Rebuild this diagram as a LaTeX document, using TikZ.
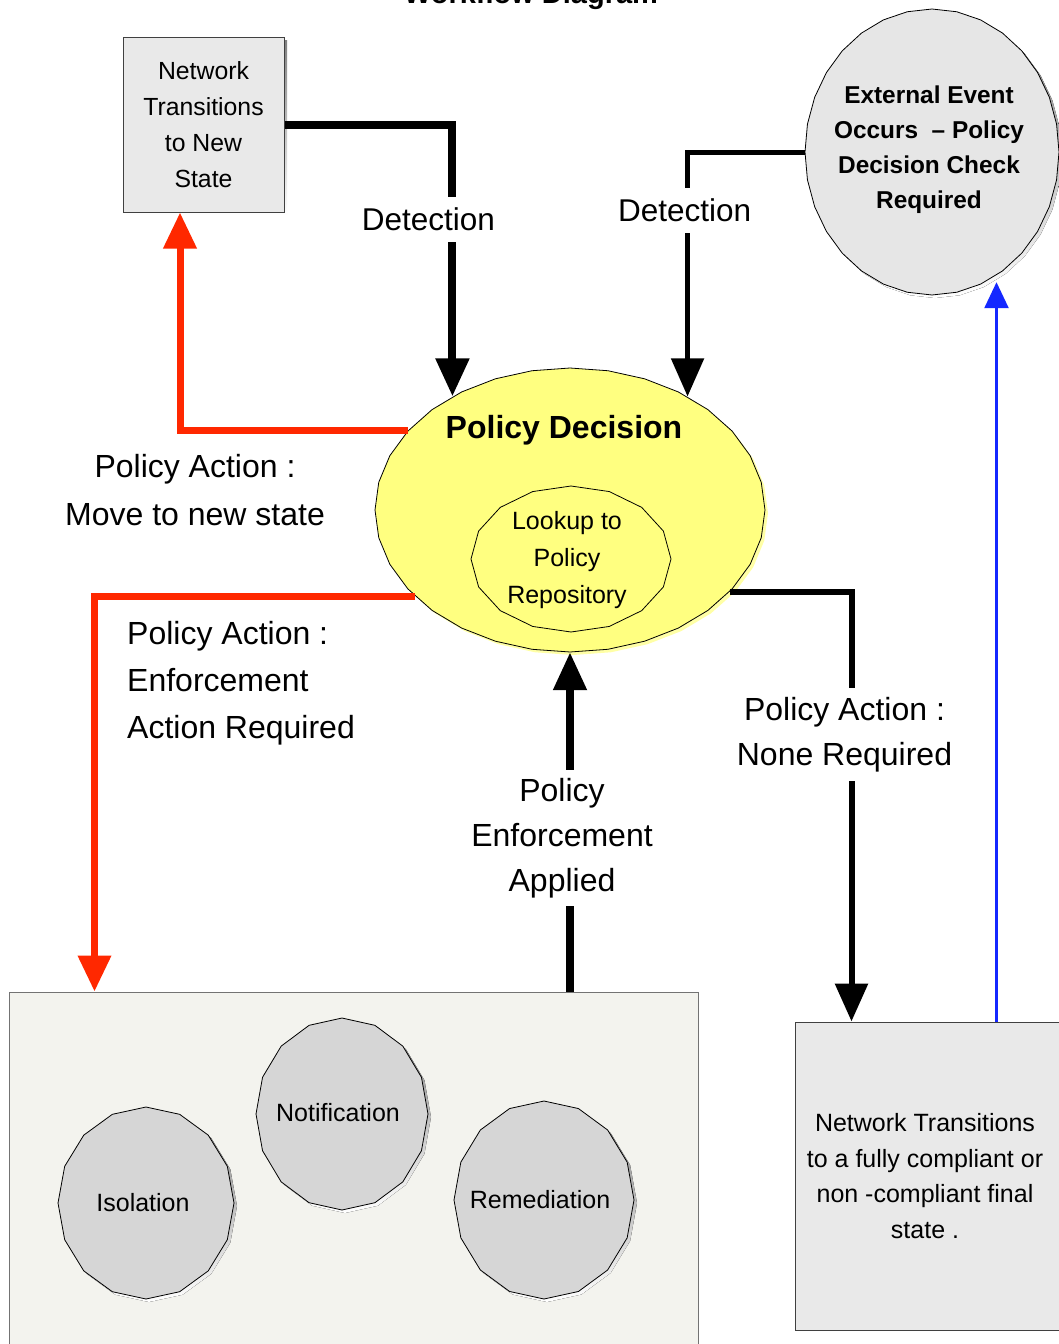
\documentclass[tikz,border=0pt]{standalone}
\usepackage{fontspec}
\setmainfont{Liberation Sans}
\usetikzlibrary{arrows.meta,shapes.geometric}

\definecolor{boxgray}{RGB}{233,233,233}
\definecolor{circgray}{RGB}{230,230,230}
\definecolor{ovalgray}{RGB}{214,214,214}
\definecolor{panel}{RGB}{243,243,238}
\definecolor{pdyellow}{RGB}{255,255,128}
\definecolor{actred}{RGB}{255,40,0}
\definecolor{evblue}{RGB}{20,40,255}
\definecolor{shade}{RGB}{218,218,218}

% many-sided "ellipse" with a soft drop shadow:
% cx, cy, rx, ry, number of sides, style, shadow colour
\newcommand\polyshape[7]{%
  \fill[#7] ({#1+#3+3},{#2+3}) \foreach \i in {1,...,#5}{ -- ({#1+3+#3*cos(\i*360/#5)},{#2+3+#4*sin(\i*360/#5)})} -- cycle;
  \draw[#6] ({#1+#3},{#2}) \foreach \i in {1,...,#5}{ -- ({#1+#3*cos(\i*360/#5)},{#2+#4*sin(\i*360/#5)})} -- cycle;
}

\tikzset{
  boxst/.style={draw=black!75, line width=1pt, fill=boxgray, inner sep=0},
  anchorell/.style={ellipse, draw=none, fill=none, inner sep=0},
  lbl/.style={fill=white, inner xsep=4pt, inner ysep=11pt, align=center,
              font=\fontsize{32}{45}\selectfont},
  blkline/.style={draw=black, -{Triangle[width=32pt,length=38pt]}},
  redline/.style={draw=actred, line width=7pt, -{Triangle[width=32pt,length=36pt]}},
  blueline/.style={draw=evblue, line width=2.5pt, -{Triangle[width=24pt,length=26pt]}},
  ovaltext/.style={font=\fontsize{25}{30}\selectfont},
}

\begin{document}
\begin{tikzpicture}[x=1pt,y=-1pt]
\fill[white] (0,0) rectangle (1059,1344);
\useasboundingbox (0,0) rectangle (1059,1344);

% heading
\node[anchor=base, font=\bfseries\fontsize{29}{34}\selectfont] (title) at (531,3) {Workflow Diagram};

% enforcement panel with its three actions
\node[draw=black!55, line width=1pt, fill=panel, minimum width=689pt, minimum height=380pt, inner sep=0] (bb) at (353.5,1182) {};
\polyshape{342}{1114}{86}{96}{16}{draw=black, line width=0.8pt, fill=ovalgray}{shade}
\polyshape{146}{1203}{88}{96}{16}{draw=black, line width=0.8pt, fill=ovalgray}{shade}
\polyshape{544}{1200}{90}{99}{16}{draw=black, line width=0.8pt, fill=ovalgray}{shade}
\node[ovaltext] (notif) at (338,1113) {Notification};
\node[ovaltext] (isol) at (143,1203) {Isolation};
\node[ovaltext] (remed) at (540,1200) {Remediation};

% final state box
\fill[shade] (798,1025) rectangle (1073,1333);
\node[boxst, minimum width=275pt, minimum height=308pt] (b3) at (932.5,1176) {};
\node[align=center, font=\fontsize{25}{35.5}\selectfont] (b3txt) at (925,1176)
  {Network Transitions\\to a fully compliant or\\non -compliant final\\state .};

% new state box
\fill[shade] (126,40) rectangle (287,215);
\node[boxst, minimum width=161pt, minimum height=175pt, align=center,
      font=\fontsize{24.8}{36}\selectfont] (b1) at (203.5,124.5)
  {Network\\Transitions\\to New\\State};

% external event
\polyshape{932}{152}{127}{143}{32}{draw=black, line width=0.8pt, fill=circgray}{shade}
\node[anchorell, minimum width=254pt, minimum height=286pt] (c2) at (932,152) {};
\node[align=center, font=\bfseries\fontsize{24.4}{35}\selectfont] (c2txt) at (929,150)
  {External Event\\Occurs\ \ – Policy\\Decision Check\\Required};

% policy decision with the repository lookup
\polyshape{570}{510}{195}{142}{32}{draw=black, line width=0.8pt, fill=pdyellow}{pdyellow!70}
\node[anchorell, minimum width=390pt, minimum height=284pt] (pd) at (570,510) {};
\polyshape{571}{559}{100}{73}{16}{draw=black, line width=0.8pt, fill=pdyellow}{pdyellow}
\node[font=\bfseries\fontsize{32}{38}\selectfont] (pdtitle) at (564,430) {Policy Decision};
\node[align=center, font=\fontsize{25}{37}\selectfont] (repotxt) at (567,560) {Lookup to\\Policy\\Repository};

% connector end points offset along box edges
\coordinate (b1foot) at ([xshift=-23.5pt]b1.south);
\coordinate (bbhead) at ([xshift=86pt]bb.north west);
\coordinate (b3head) at ([xshift=57pt]b3.north west);
\coordinate (b3blue) at ([xshift=202pt]b3.north west);

% detections
\draw[blkline, line width=8pt] (b1.east) -| node[lbl, pos=0.675, xshift=-24pt, font=\fontsize{31.5}{38}\selectfont]{Detection} (pd.136);
\draw[blkline, line width=5pt] (c2.west) -| node[lbl, pos=0.62, xshift=-3pt, font=\fontsize{31.5}{38}\selectfont]{Detection} (pd.44);

% policy actions
\draw[redline] (pd.154) -| (b1foot);
\draw[redline] (pd.209) -| (bbhead);
\draw[blkline, line width=6pt] (pd.333) -| node[lbl, pos=0.666, xshift=-7pt, inner ysep=9pt]{Policy Action :\\None Required} (b3head);
\draw[blkline, line width=8pt] (pd.south |- bb.north) -- node[lbl, pos=0.453, xshift=-8pt, inner ysep=8pt]{Policy\\Enforcement\\Applied} (pd.south);
\draw[blueline, shorten >=6pt] (b3blue) -- (b3blue |- c2.297);

% free labels beside the red paths
\node[align=center, font=\fontsize{32}{48}\selectfont] (lblmove) at (195,490) {Policy Action :\\Move to new state};
\node[align=left, anchor=west, inner sep=0, font=\fontsize{32}{47}\selectfont] (lblenf) at (127,683) {Policy Action :\\Enforcement\\Action Required};
\end{tikzpicture}
\end{document}
